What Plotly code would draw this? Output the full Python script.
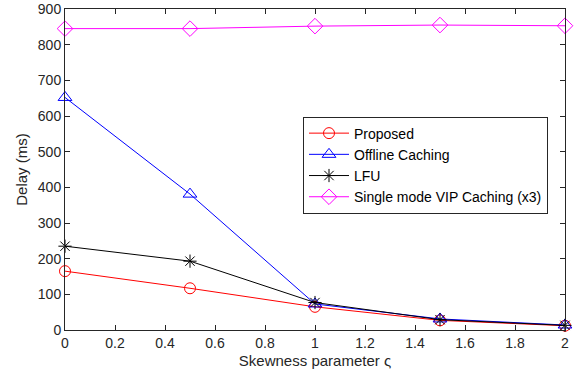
import plotly.graph_objects as go

x_vals = [0, 0.5, 1, 1.5, 2]
proposed = [165, 117, 65, 27, 12]
offline = [652, 381, 73, 31, 14]
lfu = [235, 193, 77, 29, 13]
vip = [845, 845, 852, 855, 853]

x_ticks = [0, 0.2, 0.4, 0.6, 0.8, 1, 1.2, 1.4, 1.6, 1.8, 2]
x_tick_text = ["0", "0.2", "0.4", "0.6", "0.8", "1", "1.2", "1.4", "1.6", "1.8", "2"]
y_ticks = [0, 100, 200, 300, 400, 500, 600, 700, 800, 900]

names = ["Proposed", "Offline Caching", "LFU", "Single mode VIP Caching (x3)"]
colors = ["#FF0000", "#0000FF", "#000000", "#FF00FF"]
symbols = ["circle-open", "triangle-up-open", "asterisk-open", "diamond-open"]
series = [proposed, offline, lfu, vip]
sizes = [11, 12, 11, 12]

fig = go.Figure()
for n, c, s, y, sz in zip(names, colors, symbols, series, sizes):
    fig.add_trace(go.Scatter(
        x=x_vals, y=y, name=n, mode="lines+markers",
        line=dict(color=c, width=1),
        marker=dict(symbol=s, size=sz, color=c, line=dict(color=c, width=1)),
        cliponaxis=False,
    ))

axis_common = dict(
    showline=True, linecolor="#262626", linewidth=1, mirror="ticks",
    ticks="inside", ticklen=5, tickcolor="#262626",
    showgrid=False, zeroline=False, automargin=False,
    ticklabeloverflow="allow",
    tickfont=dict(family="Liberation Sans, Arial", size=14, color="#262626"),
)

fig.update_layout(
    width=575, height=375,
    margin=dict(l=65, r=10, t=9, b=45),
    plot_bgcolor="white", paper_bgcolor="white",
    font=dict(family="Liberation Sans, Arial", color="#262626"),
    xaxis=dict(range=[0, 2], tickvals=x_ticks, ticktext=x_tick_text,
               title=dict(text="Skewness parameter ς", font=dict(size=15, color="#262626"), standoff=5),
               **axis_common),
    yaxis=dict(range=[0, 900], tickvals=y_ticks,
               title=dict(text="Delay (ms)", font=dict(size=15, color="#262626"), standoff=6),
               **axis_common),
    legend=dict(x=0.476, y=0.665, xanchor="left", yanchor="top",
                bgcolor="white", bordercolor="#262626", borderwidth=1,
                font=dict(size=14, color="#000000"),
                tracegroupgap=0, itemwidth=40),
    showlegend=True,
)

fig.write_html("out.html", config={"displayModeBar": False},
               post_script="document.body.style.margin='0';")
